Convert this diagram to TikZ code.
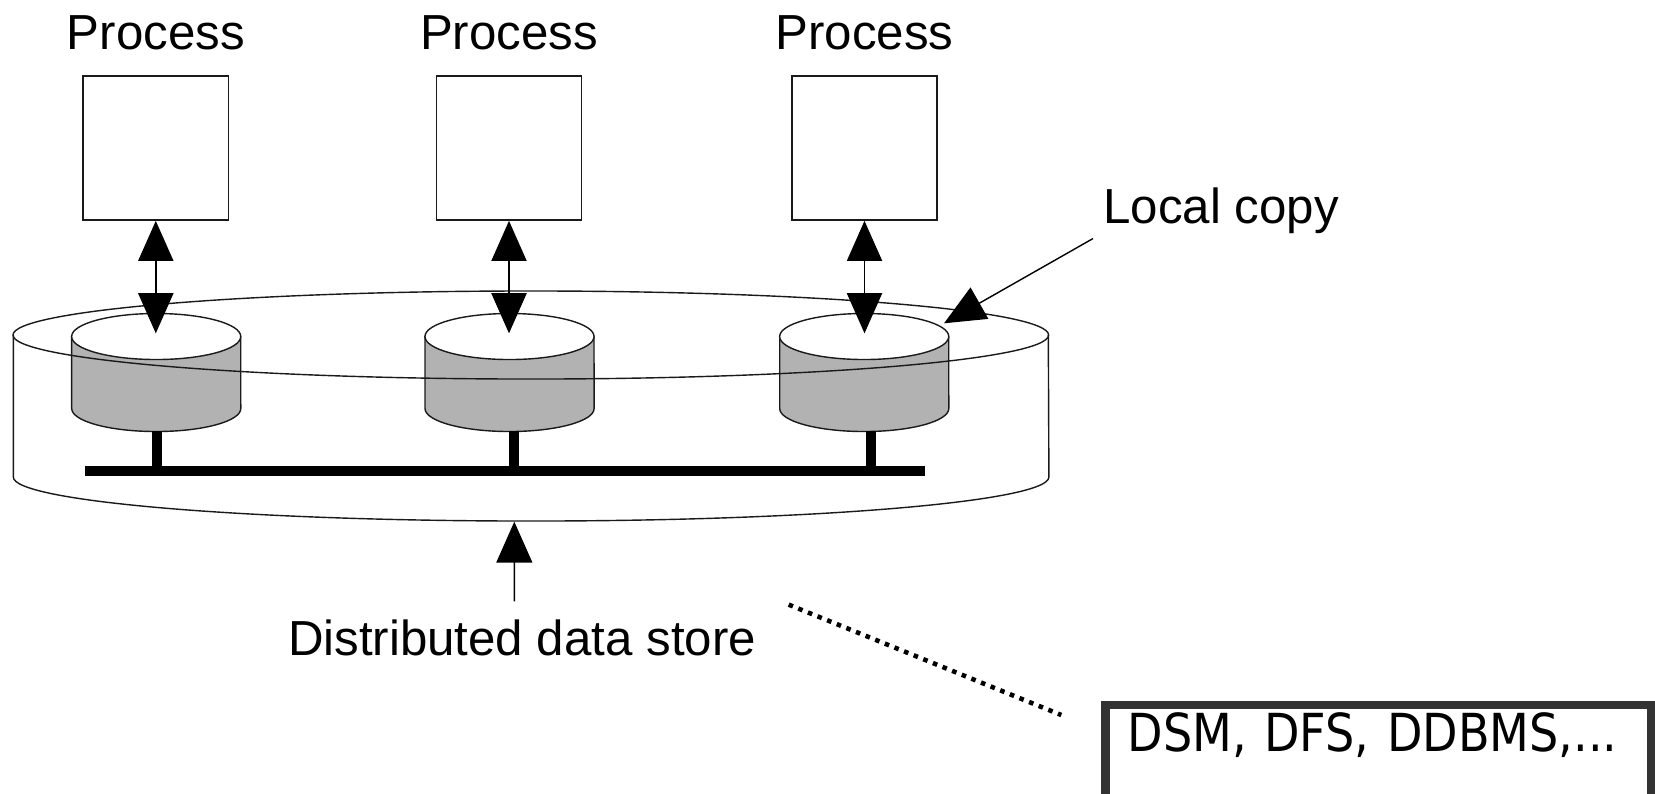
\documentclass[tikz,border=0pt]{standalone}
\usepackage{fontspec}
\setmainfont{Liberation Sans}
\newfontfamily\boxfont[FakeStretch=0.88]{DejaVu Sans}
\usetikzlibrary{arrows.meta,positioning}
\definecolor{diskGray}{HTML}{B2B2B2}
\definecolor{lineDark}{HTML}{1A1A1A}
\definecolor{boxEdge}{HTML}{333333}
\tikzset{
  thinline/.style={draw=lineDark,line width=0.4pt},
  procbox/.style={rectangle,draw=lineDark,line width=0.45pt,fill=white,
    minimum width=1.45cm,minimum height=1.44cm,inner sep=0pt},
  tag/.style={inner sep=0pt,font=\fontsize{14}{17}\selectfont},
  arrow/.style={-{Triangle[length=11.6pt,width=10.2pt]},line width=0.4pt},
  dblarrow/.style={{Triangle[length=11.4pt,width=10pt]}-{Triangle[length=11.4pt,width=10pt]},line width=0.4pt},
  busline/.style={line width=0.1cm},
  dotline/.style={line width=1.3pt,dash pattern=on 1.3pt off 1.65pt},
  dsmbox/.style={rectangle,draw=boxEdge,line width=2.4pt,fill=white,outer sep=0pt,
    text width=5.01cm,align=left,text height=0.383cm,text depth=0.6cm,
    inner xsep=0.224cm,inner ysep=0.083cm,font=\boxfont\fontsize{14.9}{18}\selectfont},
  localdisk/.pic={
    \draw[thinline,fill=diskGray] (-84.5,0) -- (-84.5,-72)
      arc[start angle=180,end angle=360,x radius=0.845cm,y radius=0.23cm] -- (84.5,0) -- cycle;
    \draw[thinline,fill=white] (0,0) ellipse[x radius=0.845cm,y radius=0.23cm];
  }
}
\begin{document}
\begin{tikzpicture}[x=0.01cm,y=0.01cm]
\useasboundingbox (0,0) rectangle (1655,-793);

% processes
\node[procbox] (p1) at (155.8,-148) {};
\node[procbox] (p2) at (509,-148) {};
\node[procbox] (p3) at (864.5,-148) {};
\node[tag, above=0.243cm of p1] (t1) {Process};
\node[tag, above=0.243cm of p2] (t2) {Process};
\node[tag, above=0.243cm of p3] (t3) {Process};

% local copies
\pic at (156.2,-336.5) {localdisk};
\pic at (509.5,-336.5) {localdisk};
\pic at (864.2,-336.5) {localdisk};
\coordinate (d1) at (155.8,-333.3);
\coordinate (d2) at (509,-333.3);
\coordinate (d3) at (864.5,-333.3);

% distributed store
\draw[thinline] (530.8,-335) ellipse[x radius=5.175cm,y radius=0.44cm];
\draw[thinline] (13.3,-335) -- (13.3,-477)
  arc[start angle=180,end angle=360,x radius=5.175cm,y radius=0.44cm] -- (1048.3,-335);
\coordinate (dsb) at (514.3,-521.7);
\coordinate (lct) at (944,-323.3);

% interconnect
\draw[busline] (85,-471.3) -- (925,-471.3);
\draw[busline] (156.7,-431) -- (156.7,-467);
\draw[busline] (514.3,-431) -- (514.3,-467);
\draw[busline] (870.7,-431) -- (870.7,-467);

\draw[dblarrow] (p1.south) -- (d1);
\draw[dblarrow] (p2.south) -- (d2);
\draw[dblarrow] (p3.south) -- (d3);

\node[tag, anchor=base west] (lc) at (1102.7,-223.3) {Local copy};
\node[tag, anchor=base] (store) at (522,-655) {Distributed data store};
\draw[arrow] ([shift={(-9.7,-4.3)}]lc.south west) -- (lct);
\draw[arrow] ([shift={(-7.7,17.3)}]store.north) -- (dsb);

\node[dsmbox, anchor=north west] (dsm) at (1105.3,-705) {DSM, DFS, DDBMS,...};
\draw[dotline] ([shift={(32,14)}]store.north east) -- ([shift={(-44,-10)}]dsm.north west);
\end{tikzpicture}
\end{document}
